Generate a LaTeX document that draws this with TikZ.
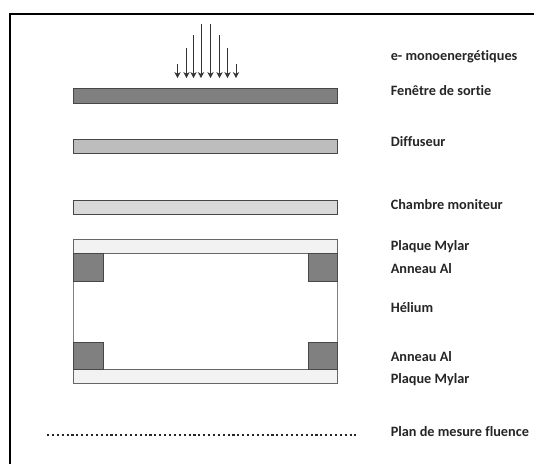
\documentclass[tikz,border=0pt]{standalone}
\usepackage{fontspec}
\setmainfont{Carlito}[Ligatures=NoCommon]
\usetikzlibrary{arrows.meta}
\definecolor{darkbar}{gray}{0.5}
\definecolor{midbar}{gray}{0.74}
\definecolor{lightbar}{gray}{0.85}
\definecolor{palebar}{gray}{0.95}
\definecolor{edge}{gray}{0.28}
\tikzset{
  px/.style={x=0.75pt,y=-0.75pt},
  bar/.style={draw=edge,line width=0.75pt},
  frameline/.style={draw=black,line width=1.5pt},
  beam/.style={draw=black!80,line width=0.6pt,-{Stealth[length=4.5pt,width=4.8pt]}},
  lab/.style={anchor=base west,inner sep=0pt,font=\bfseries\fontsize{10.7}{12}\selectfont,text=black!85},
  plane/.style={draw=black!85,line width=1.5pt,dash pattern=on 1.6pt off 2.06pt}
}
\begin{document}
\begin{tikzpicture}[px]
\useasboundingbox (0,0) rectangle (534,464);
\fill[white] (0,0) rectangle (534,464);
\draw[frameline] (9.5,464) -- (9.5,14) -- (534,14);
% beam
\foreach \n/\x/\t in {a/177.5/64,b/186.5/48,c/193.5/35,d/201/24,e/210.5/24,f/219.5/35,g/227.5/48,h/236/64}{
  \coordinate (top\n) at (\x,\t);
  \coordinate (bot\n) at (\x,78);
  \draw[beam] (top\n) -- (bot\n);
}
% bars
\draw[bar,fill=darkbar] (73.5,88.5) rectangle (337,103);
\draw[bar,fill=midbar] (73.7,139.5) rectangle (337.5,153.7);
\draw[bar,fill=lightbar] (73.5,200.5) rectangle (337,214.5);
% helium chamber
\draw[draw=gray,line width=0.75pt] (73.5,253.5) -- (73.5,369.5) (337,253.5) -- (337,369.5);
\draw[draw=gray!80!black,line width=0.75pt,fill=palebar] (73.5,239.5) rectangle (337,253.5);
\draw[draw=gray!80!black,line width=0.75pt,fill=palebar] (73.5,369.5) rectangle (337,383.5);
\draw[bar,fill=darkbar] (73.5,253.5) rectangle (103,281);
\draw[bar,fill=darkbar] (308,253.5) rectangle (337,281);
\draw[bar,fill=darkbar] (73.5,342) rectangle (103,369.5);
\draw[bar,fill=darkbar] (308,342) rectangle (337,369.5);
% measurement plane
\coordinate (pl) at (47,434.5);
\coordinate (pr) at (356,434.5);
\draw[plane] (pl) -- (pr);
% labels
\node[lab] (l1) at (390.5,60.5) {e- monoenergétiques};
\node[lab] (l2) at (390.5,95.5) {Fenêtre de sortie};
\node[lab] (l3) at (390.5,146.5) {Diffuseur};
\node[lab] (l4) at (390.5,209.5) {Chambre moniteur};
\node[lab] (l5) at (390.5,250) {Plaque Mylar};
\node[lab] (l6) at (390.5,273) {Anneau Al};
\node[lab] (l7) at (390.5,312.5) {Hélium};
\node[lab] (l8) at (390.5,361) {Anneau Al};
\node[lab] (l9) at (390.5,383.5) {Plaque Mylar};
\node[lab] (l10) at (390.5,436.5) {Plan de mesure fluence};
\end{tikzpicture}
\end{document}
